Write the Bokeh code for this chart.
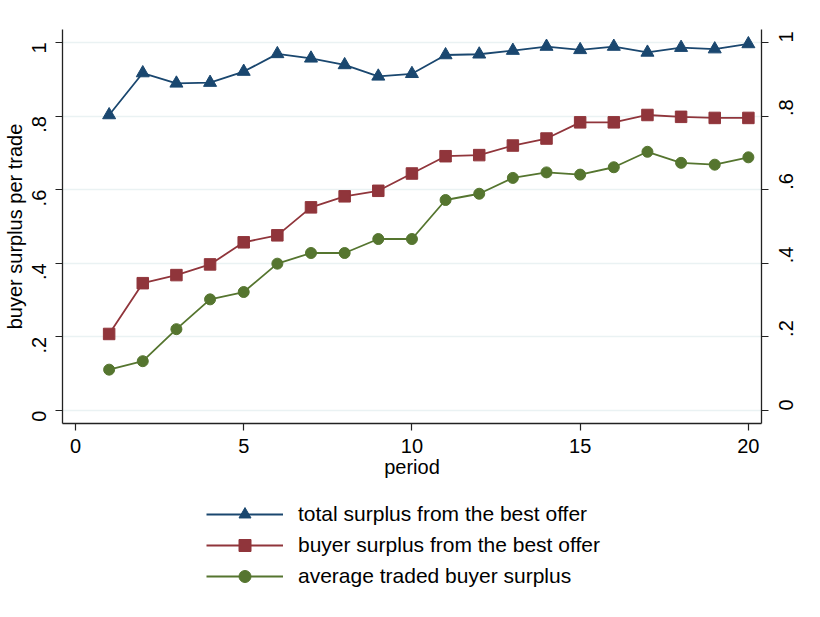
import math
from bokeh.plotting import figure
from bokeh.layouts import column
from bokeh.models import LinearAxis, FixedTicker, Legend, LegendItem, Range1d
from bokeh.embed import file_html
from bokeh.resources import INLINE

# ---- data ----
period = list(range(1, 21))
total_surplus = [0.803, 0.917, 0.889, 0.891, 0.921, 0.969, 0.957, 0.939, 0.908, 0.915,
                 0.966, 0.968, 0.978, 0.989, 0.980, 0.989, 0.973, 0.986, 0.982, 0.996]
buyer_surplus_best = [0.208, 0.346, 0.368, 0.397, 0.457, 0.476, 0.552, 0.582, 0.597, 0.644,
                      0.691, 0.694, 0.720, 0.739, 0.783, 0.783, 0.803, 0.798, 0.795, 0.795]
avg_traded = [0.111, 0.134, 0.221, 0.302, 0.322, 0.399, 0.428, 0.428, 0.466, 0.466,
              0.572, 0.589, 0.632, 0.647, 0.641, 0.661, 0.703, 0.673, 0.668, 0.688]
series_labels = ["total surplus from the best offer",
                 "buyer surplus from the best offer",
                 "average traded buyer surplus"]
x_ticks = [0, 5, 10, 15, 20]
y_ticks = [0, 0.2, 0.4, 0.6, 0.8, 1]
y_tick_labels = ["0", ".2", ".4", ".6", ".8", "1"]

NAVY = "#1a476f"
MAROON = "#90353b"
GREEN = "#55752f"
COLORS = [NAVY, MAROON, GREEN]
MARKERS = ["triangle", "square", "circle"]
SIZES = [13, 11.5, 11]
FONT = "Liberation Sans"

p = figure(frame_width=699, frame_height=394,
           min_border_left=62, min_border_right=59, min_border_top=29, min_border_bottom=70,
           x_range=Range1d(-0.386, 20.39), y_range=Range1d(-0.0353, 1.0353),
           output_backend="svg", toolbar_location=None,
           background_fill_color="white", border_fill_color="white")
p.outline_line_color = None

# grids
p.xgrid.visible = False
p.ygrid.ticker = FixedTicker(ticks=y_ticks)
p.ygrid.grid_line_color = "#eaf2f3"
p.ygrid.grid_line_width = 1.5

overrides = {t: l for t, l in zip(y_ticks, y_tick_labels)}

def style_axis(ax):
    ax.axis_line_color = "#222222"
    ax.axis_line_width = 1.3
    ax.major_tick_line_color = "#222222"
    ax.major_tick_line_width = 1.2
    ax.major_tick_out = 7
    ax.major_tick_in = 0
    ax.minor_tick_out = 0
    ax.minor_tick_in = 0
    ax.major_label_text_font = FONT
    ax.major_label_text_font_size = "20px"
    ax.major_label_text_color = "black"
    ax.axis_label_text_font = FONT
    ax.axis_label_text_font_size = "20px"
    ax.axis_label_text_font_style = "normal"
    ax.axis_label_text_color = "black"

# x axis
xa = p.xaxis[0]
style_axis(xa)
xa.ticker = FixedTicker(ticks=x_ticks)
xa.axis_label = "period"
xa.major_label_standoff = 8
xa.axis_label_standoff = 0

# left y axis
ya = p.yaxis[0]
style_axis(ya)
ya.ticker = FixedTicker(ticks=y_ticks)
ya.major_label_overrides = overrides
ya.major_label_orientation = math.pi / 2
ya.axis_label = "buyer surplus per trade"
ya.major_label_standoff = 16
ya.axis_label_standoff = -3

# right y axis
ya2 = LinearAxis()
style_axis(ya2)
ya2.ticker = FixedTicker(ticks=y_ticks)
ya2.major_label_overrides = overrides
ya2.major_label_orientation = math.pi / 2
ya2.major_label_standoff = 18
p.add_layout(ya2, "right")

# series
series = [total_surplus, buyer_surplus_best, avg_traded]
for vals, c, m, s in zip(series, COLORS, MARKERS, SIZES):
    p.line(period, vals, line_color=c, line_width=1.8)
    p.scatter(period, vals, marker=m, size=s, fill_color=c, line_color=c)

# legend strip below the chart (separate figure so nothing gets clipped);
# its renderers carry the same series but lie outside its visible ranges
leg_fig = figure(width=820, height=617 - (29 + 394 + 70),
                 x_range=Range1d(-3, -2), y_range=Range1d(-3, -2),
                 x_axis_location=None, y_axis_location=None,
                 min_border=0, output_backend="svg", toolbar_location=None,
                 background_fill_color="white", border_fill_color="white")
leg_fig.outline_line_color = None
leg_fig.grid.visible = False

items = []
for vals, lab, c, m, s in zip(series, series_labels, COLORS, MARKERS, SIZES):
    rl = leg_fig.line(period, vals, line_color=c, line_width=1.8)
    rm = leg_fig.scatter(period, vals, marker=m, size=s, fill_color=c, line_color=c)
    items.append(LegendItem(label=lab, renderers=[rl, rm]))

legend = Legend(items=items, location=(144, 26), orientation="vertical",
                border_line_color=None, background_fill_alpha=0,
                label_text_font=FONT, label_text_font_size="21px", label_text_color="black",
                glyph_width=77, glyph_height=30, label_height=30, label_standoff=15,
                spacing=1, padding=0, margin=0)
leg_fig.add_layout(legend, "center")

layout = column(p, leg_fig, spacing=0)
open("out.html", "w").write(file_html(layout, INLINE))
